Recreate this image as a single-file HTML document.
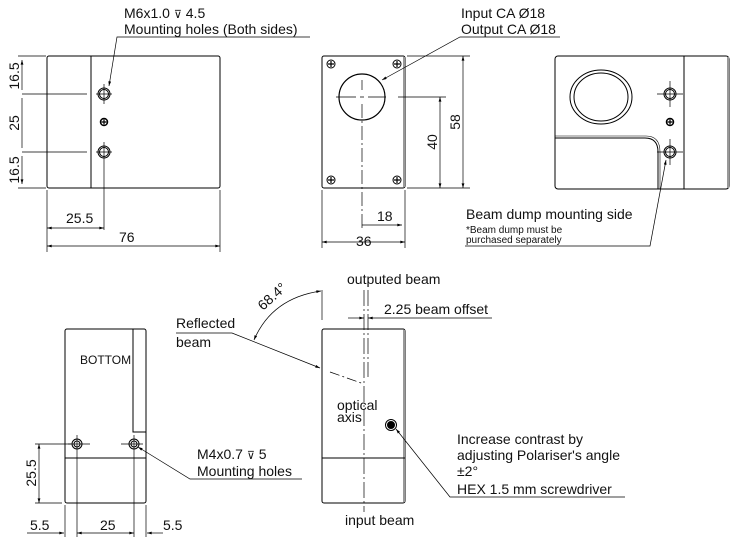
<!DOCTYPE html>
<html><head><meta charset="utf-8"><style>
html,body{margin:0;padding:0;background:#fff}
svg{display:block}
text{font-family:"Liberation Sans",sans-serif;fill:#111}
</style></head><body>
<svg width="740" height="540" viewBox="0 0 740 540" xmlns="http://www.w3.org/2000/svg">
<defs>
<marker id="a" viewBox="0 0 10 6" refX="10" refY="3" markerWidth="8" markerHeight="4" orient="auto-start-reverse"><path d="M0,0L10,3L0,6z" fill="#000"/></marker>
</defs>
<g stroke="#000" fill="none" stroke-width="1">
<rect x="47" y="56" width="173" height="132" rx="2"/>
<line x1="91" y1="56" x2="91" y2="188"/>
<circle cx="104" cy="94" r="6"/><circle cx="104" cy="94" r="4.5"/>
<circle cx="104" cy="152" r="6"/><circle cx="104" cy="152" r="4.5"/>
<circle cx="104" cy="122" r="3.5" stroke-width="1.5"/>
<path d="M101.5 122h5M104 119.5v5" stroke-width="1.2"/>
<path d="M96 94h16M104 84v20M96 152h16M104 142v88" stroke-width="0.7"/>
<path d="M18 56h28M18 188h28M22 94h65M22 152h65" stroke-width="0.7"/>
<path d="M22 60v30M22 98v50M22 156v28" marker-start="url(#a)" marker-end="url(#a)" stroke-width="0.7"/>
<path d="M47 190v62M220 190v62" stroke-width="0.7"/>
<line x1="47" y1="228" x2="104" y2="228" marker-start="url(#a)" marker-end="url(#a)" stroke-width="0.7"/>
<line x1="47" y1="246" x2="220" y2="246" marker-start="url(#a)" marker-end="url(#a)" stroke-width="0.7"/>
<path d="M310 37H117L109 86" stroke-width="0.7" marker-end="url(#a)"/>
<rect x="322" y="56" width="83" height="132" rx="2"/>
<rect x="403" y="57" width="2" height="130" fill="#999" stroke="none"/>
<circle cx="362" cy="97" r="23" stroke-width="1.2"/>
<circle cx="331" cy="64" r="4"/><circle cx="397" cy="64" r="4"/><circle cx="331" cy="180" r="4"/><circle cx="397" cy="180" r="4"/>
<path d="M328 64h6M331 61v6M394 64h6M397 61v6M328 180h6M331 177v6M394 180h6M397 177v6" stroke-width="1.2"/>
<path d="M336 97h20M360 97h4M368 97h18M398 97h48" stroke-width="0.7"/>
<path d="M362 80v10M362 104v126" stroke-width="0.7" stroke-dasharray="14 3 2 3"/>
<path d="M407 56h63M407 188h63M322 190v58M405 190v58" stroke-width="0.7"/>
<line x1="463" y1="56" x2="463" y2="188" marker-start="url(#a)" marker-end="url(#a)" stroke-width="0.7"/>
<line x1="440" y1="97" x2="440" y2="188" marker-start="url(#a)" marker-end="url(#a)" stroke-width="0.7"/>
<path d="M362 225h40" marker-end="url(#a)" stroke-width="0.7"/>
<line x1="322" y1="242" x2="405" y2="242" marker-start="url(#a)" marker-end="url(#a)" stroke-width="0.7"/>
<path d="M560 37H460L382 80" stroke-width="0.7" marker-end="url(#a)"/>
<rect x="555" y="56" width="174" height="133" rx="3"/>
<rect x="727" y="57" width="2" height="131" fill="#999" stroke="none"/>
<line x1="684" y1="56" x2="684" y2="189"/>
<ellipse cx="601" cy="97" rx="31" ry="27"/>
<ellipse cx="601" cy="97" rx="27" ry="24"/>
<path d="M555 138h90q13 0 13 14v37"/>
<path d="M555 136h91q14 0 14 16v37" stroke-width="0.6"/>
<circle cx="670" cy="94" r="6"/><circle cx="670" cy="94" r="4.5"/>
<circle cx="670" cy="152" r="6"/><circle cx="670" cy="152" r="4.5"/>
<circle cx="670" cy="122" r="3.5" stroke-width="1.5"/>
<path d="M667.5 122h5M670 119.5v5" stroke-width="1.2"/>
<path d="M657 94h26M670 81v26M657 152h26M670 139v26" stroke-width="0.7"/>
<path d="M465 246H650L666 160" stroke-width="0.7" marker-end="url(#a)"/>
<rect x="65" y="329" width="81" height="174" rx="2"/>
<path d="M133 329v103h13M65 458h81"/>
<circle cx="77" cy="444" r="5"/><circle cx="77" cy="444" r="3"/>
<circle cx="134" cy="444" r="5"/><circle cx="134" cy="444" r="3"/>
<path d="M68 444h22M77 435v102M121 444h22M134 435v102M65 505v32M146 505v32" stroke-width="0.7"/>
<path d="M35 444h36M35 503h27" stroke-width="0.7"/>
<line x1="39" y1="444" x2="39" y2="503" marker-start="url(#a)" marker-end="url(#a)" stroke-width="0.7"/>
<path d="M27 533h37" marker-end="url(#a)" stroke-width="0.7"/>
<path d="M77 533h57" marker-start="url(#a)" marker-end="url(#a)" stroke-width="0.7"/>
<path d="M163 533h-16" marker-end="url(#a)" stroke-width="0.7"/>
<path d="M302 479H190L138 447" stroke-width="0.7" marker-end="url(#a)"/>
<rect x="322" y="329" width="83" height="174" rx="2"/>
<rect x="403" y="330" width="2" height="172" fill="#999" stroke="none"/>
<line x1="322" y1="458" x2="405" y2="458"/>
<line x1="364" y1="290" x2="364" y2="512" stroke-width="0.7" stroke-dasharray="16 3 2 3"/>
<line x1="368" y1="290" x2="368" y2="377" stroke-width="0.7" stroke-dasharray="16 3 2 3"/>
<path d="M348 318h16" marker-end="url(#a)" stroke-width="0.7"/>
<path d="M492 318h-124" marker-end="url(#a)" stroke-width="0.7"/>
<circle cx="391" cy="425" r="5.5"/>
<circle cx="391" cy="425" r="3.5" fill="#000"/>
<path d="M625 497H450L396 429" stroke-width="0.7" marker-end="url(#a)"/>
<path d="M176 333h56L320 368" stroke-width="0.7" marker-end="url(#a)"/>
<path d="M330 372L364 384" stroke-width="0.7" stroke-dasharray="10 3 2 3"/>
<path d="M322 290v30" stroke-width="0.7"/>
<path d="M254 340Q272 298 321 291" stroke-width="0.7" marker-start="url(#a)" marker-end="url(#a)"/>
</g>
<g font-size="14">
<text x="124" y="18">M6x1.0 <tspan font-size="11">⊽</tspan> 4.5</text>
<text x="124" y="34">Mounting holes (Both sides)</text>
<text x="461" y="18">Input CA Ø18</text>
<text x="461" y="34">Output CA Ø18</text>
<text transform="translate(19,76) rotate(-90)" text-anchor="middle">16.5</text>
<text transform="translate(19,123) rotate(-90)" text-anchor="middle">25</text>
<text transform="translate(19,170) rotate(-90)" text-anchor="middle">16.5</text>
<text x="66" y="223">25.5</text>
<text x="119" y="242">76</text>
<text x="377" y="221">18</text>
<text x="356" y="246">36</text>
<text transform="translate(437,142) rotate(-90)" text-anchor="middle">40</text>
<text transform="translate(460,122) rotate(-90)" text-anchor="middle">58</text>
<text x="466" y="219">Beam dump mounting side</text>
<text x="466" y="233" font-size="10">*Beam dump must be</text>
<text x="466" y="243" font-size="10">purchased separately</text>
<text x="80" y="364" font-size="12">BOTTOM</text>
<text transform="translate(36,473) rotate(-90)" text-anchor="middle">25.5</text>
<text x="30" y="530">5.5</text>
<text x="100" y="530">25</text>
<text x="163" y="530">5.5</text>
<text x="197" y="459">M4x0.7 <tspan font-size="11">⊽</tspan> 5</text>
<text x="197" y="476">Mounting holes</text>
<text x="176" y="328">Reflected</text>
<text x="176" y="347">beam</text>
<text transform="translate(263,311) rotate(-42)">68.4°</text>
<text x="347" y="284">outputed beam</text>
<text x="384" y="314">2.25 beam offset</text>
<text x="337" y="410">optical</text>
<text x="337" y="422">axis</text>
<text x="345" y="525">input beam</text>
<text x="457" y="444">Increase contrast by</text>
<text x="457" y="460">adjusting Polariser's angle</text>
<text x="457" y="476">±2°</text>
<text x="457" y="494">HEX 1.5 mm screwdriver</text>
</g>
</svg>
</body></html>
